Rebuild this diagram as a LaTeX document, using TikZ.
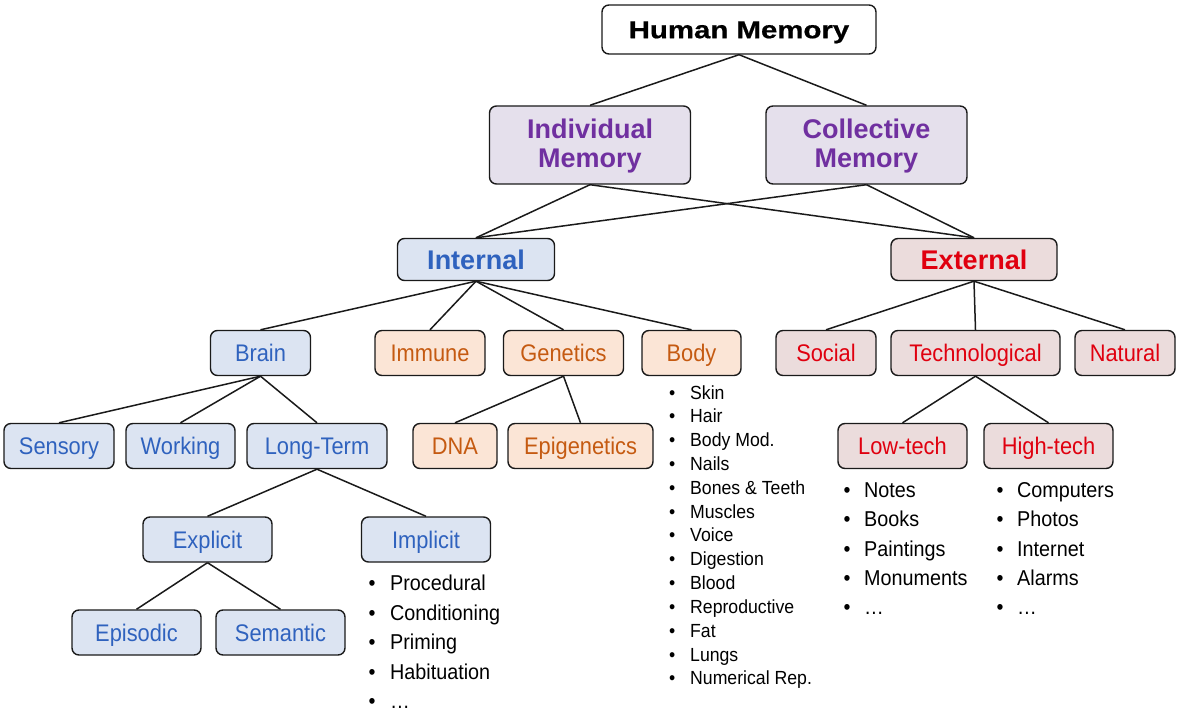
\documentclass[tikz,border=0pt]{standalone}
\usepackage{fontspec}
\setmainfont{Liberation Sans}
\newfontfamily\regfont{Liberation Sans}[FakeStretch=0.91]
\newfontfamily\biglistfont{Liberation Sans}[FakeStretch=0.92]
\newfontfamily\smalllistfont{Liberation Sans}[FakeStretch=0.93]
\newfontfamily\hmfont{Liberation Sans}[FakeStretch=1.2,FakeBold=0.6]
\definecolor{purpfill}{HTML}{E5E0EC}
\definecolor{purptext}{HTML}{7030A0}
\definecolor{bluefill}{HTML}{DCE4F2}
\definecolor{bluetext}{HTML}{2F62BE}
\definecolor{orfill}{HTML}{FBE5D6}
\definecolor{ortext}{HTML}{C55A11}
\definecolor{redfill}{HTML}{EBDCDC}
\definecolor{redtext}{HTML}{E0000F}
\definecolor{edge}{HTML}{1A1A1A}
\tikzset{
  box/.style={draw=edge, line width=1.4pt, rounded corners=7pt, inner sep=0pt, align=center},
  topbox/.style={box, fill=white, text=black, font=\hmfont\fontsize{24.5}{28}\selectfont\bfseries, text height=17.5pt, text depth=0pt},
  purpbox/.style={box, fill=purpfill, text=purptext, font=\fontsize{27}{29}\selectfont\bfseries},
  bluebold/.style={box, fill=bluefill, text=bluetext, font=\fontsize{27}{31}\selectfont\bfseries, text height=19.3pt, text depth=0pt},
  redbold/.style={box, fill=redfill, text=redtext, font=\fontsize{27}{31}\selectfont\bfseries, text height=19.3pt, text depth=0pt},
  reg/.style={box, font=\regfont\fontsize{24}{28}\selectfont, text height=17.2pt, text depth=0pt, minimum height=45pt},
  bluebox/.style={reg, fill=bluefill, text=bluetext},
  orbox/.style={reg, fill=orfill, text=ortext},
  redbox/.style={reg, fill=redfill, text=redtext},
  conn/.style={draw=edge, line width=1.5pt},
  itemL/.style={anchor=base west, inner sep=0pt, font=\biglistfont\fontsize{21.5}{24}\selectfont},
  itemS/.style={anchor=base west, inner sep=0pt, font=\smalllistfont\fontsize{19}{22}\selectfont},
}
\newcommand{\bul}[1]{\makebox[#1][l]{•}}
\newcommand{\twoline}[2]{\rule{0pt}{21.3pt}#1\\#2\rule[-6pt]{0pt}{6pt}}
\begin{document}
\begin{tikzpicture}[x=1pt,y=-1pt]
\useasboundingbox (0,0) rectangle (1179,714);

% level 0-1
\node[topbox, minimum width=274pt, minimum height=49pt] (human) at (739,29.5) {Human Memory};
\node[purpbox, minimum width=201pt, minimum height=78pt] (indiv) at (590,145) {\twoline{Individual}{Memory}};
\node[purpbox, minimum width=201pt, minimum height=78pt] (coll) at (866.5,145) {\twoline{Collective}{Memory}};

% level 2
\node[bluebold, minimum width=157pt, minimum height=42pt] (internal) at (476,259.5) {Internal};
\node[redbold, minimum width=166pt, minimum height=42pt] (external) at (974,259.5) {External};

% level 3
\node[bluebox, minimum width=100pt] (brain) at (260.5,353) {Brain};
\node[orbox, minimum width=110pt] (immune) at (430,353) {Immune};
\node[orbox, minimum width=120pt] (genetics) at (563.5,353) {Genetics};
\node[orbox, minimum width=99pt] (body) at (691.5,353) {Body};
\node[redbox, minimum width=100pt] (social) at (826,353) {Social};
\node[redbox, minimum width=169pt] (techno) at (975.5,353) {Technological};
\node[redbox, minimum width=100pt] (natural) at (1125,353) {Natural};

% level 4
\node[bluebox, minimum width=110pt] (sensory) at (59,446) {Sensory};
\node[bluebox, minimum width=109pt] (working) at (180.5,446) {Working};
\node[bluebox, minimum width=140pt] (longterm) at (317,446) {Long-Term};
\node[orbox, minimum width=84pt] (dna) at (455,446) {DNA};
\node[orbox, minimum width=145pt] (epi) at (580.5,446) {Epigenetics};
\node[redbox, minimum width=129pt] (lowtech) at (902.5,446) {Low-tech};
\node[redbox, minimum width=129pt] (hightech) at (1048.5,446) {High-tech};

% level 5-6
\node[bluebox, minimum width=129pt] (explicit) at (207.5,539.5) {Explicit};
\node[bluebox, minimum width=129pt] (implicit) at (426,539.5) {Implicit};
\node[bluebox, minimum width=129pt] (episodic) at (136.5,632.5) {Episodic};
\node[bluebox, minimum width=129pt] (semantic) at (280.5,632.5) {Semantic};

% connectors
\draw[conn] (human.south) -- (indiv.north);
\draw[conn] (human.south) -- (coll.north);
\draw[conn] (indiv.south) -- (internal.north);
\draw[conn] (indiv.south) -- (external.north);
\draw[conn] (coll.south) -- (internal.north);
\draw[conn] (coll.south) -- (external.north);
\foreach \c in {brain,immune,genetics,body} \draw[conn] (internal.south) -- (\c.north);
\foreach \c in {social,techno,natural} \draw[conn] (external.south) -- (\c.north);
\foreach \c in {sensory,working,longterm} \draw[conn] (brain.south) -- (\c.north);
\foreach \c in {dna,epi} \draw[conn] (genetics.south) -- (\c.north);
\foreach \c in {lowtech,hightech} \draw[conn] (techno.south) -- (\c.north);
\foreach \c in {explicit,implicit} \draw[conn] (longterm.south) -- (\c.north);
\foreach \c in {episodic,semantic} \draw[conn] (explicit.south) -- (\c.north);

% lists
\foreach \t [count=\i] in {Procedural,Conditioning,Priming,Habituation,…}
  \node[itemL] (imp\i) at (368.5,{590.5+29.5*(\i-1)}) {\bul{21.5pt}\t};
\foreach \t [count=\i] in {Skin,Hair,Body Mod.,Nails,Bones \& Teeth,Muscles,Voice,Digestion,Blood,Reproductive,Fat,Lungs,Numerical Rep.}
  \node[itemS] (bod\i) at (668.8,{399+23.83*(\i-1)}) {\bul{21.2pt}\t};
\foreach \t [count=\i] in {Notes,Books,Paintings,Monuments,…}
  \node[itemL] (low\i) at (843.5,{497.5+29.3*(\i-1)}) {\bul{20.5pt}\t};
\foreach \t [count=\i] in {Computers,Photos,Internet,Alarms,…}
  \node[itemL] (high\i) at (996.5,{497.5+29.3*(\i-1)}) {\bul{20.5pt}\t};
\end{tikzpicture}
\end{document}
